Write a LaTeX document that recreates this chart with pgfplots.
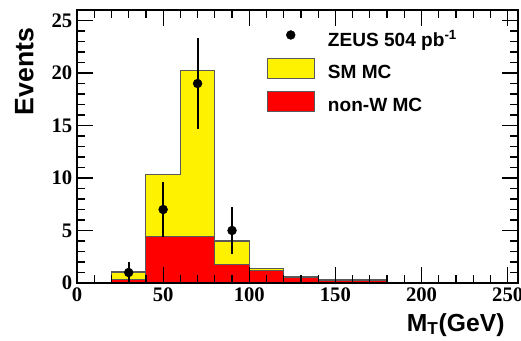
\documentclass[border=0pt]{standalone}
\usepackage{pgfplots}
\pgfplotsset{compat=1.18}
\usepackage{pgfplotstable}
\usepackage{fontspec}
\setmainfont{Liberation Serif}
\newfontfamily\hsans{Liberation Sans}

\pgfplotsset{
  boxlegend/.style={legend image code/.code={\draw[##1] (0pt,-3.75pt) rectangle (35pt,11.25pt);}},
  dotlegend/.style={legend image code/.code={\path[draw=none,fill=none] (0pt,-3.75pt) rectangle (35pt,11.25pt); \fill[black] (17.5pt,5pt) circle (3.3pt);}},
}

\pgfplotstableread{
x sm nonw
20 1.05 0.30
40 10.3 4.47
60 20.2 4.47
80 4.0 1.8
100 1.42 1.2
120 0.57 0.48
140 0.35 0.26
160 0.35 0.26
180 0.05 0.0
200 0.05 0.0
}\hist

\pgfplotstableread{
x y e
30 1 1.0
50 7 2.6
70 19 4.36
90 5 2.2
}\data

\begin{document}
\begin{tikzpicture}
\begin{axis}[
  scale only axis, width=330.75pt, height=204.75pt,
  xmin=0, xmax=256, ymin=0, ymax=26,
  xtick={0,50,...,250}, minor x tick num=4,
  ytick={0,5,...,25}, minor y tick num=4,
  tick align=inside,
  major tick length=12pt, minor tick length=6pt,
  tick style={black, line width=0.9pt},
  axis line style={line width=1pt},
  ticklabel style={font=\bfseries\fontsize{15.5}{15.5}\selectfont},
  /pgf/number format/assume math mode=true,
  axis on top,
  clip=false,
  legend cell align=left,
  legend style={draw=none, fill=none, at={(axis description cs:0.43,0.94)}, anchor=north west,
    font=\hsans\bfseries\fontsize{14.3}{16}\selectfont, inner sep=0pt, row sep=5.8pt,
    nodes={inner sep=0pt, text height=10.5pt, text depth=3pt},
    /tikz/every odd column/.style={column sep=10pt}},
]
\addlegendimage{dotlegend}
\addlegendentry{ZEUS 504 pb\textsuperscript{-1}}
\addplot[const plot mark left, fill=yellow, draw=black!65, line width=0.8pt, boxlegend]
  table[x=x, y=sm] {\hist} \closedcycle;
\addlegendentry{SM MC}
\addplot[const plot mark left, fill=red, draw=black!65, line width=0.8pt, boxlegend]
  table[x=x, y=nonw] {\hist} \closedcycle;
\addlegendentry{non-W MC}
\addplot[only marks, mark=*, mark size=3.3pt, black, forget plot,
  error bars/.cd, y dir=both, y explicit, error bar style={line width=1.5pt}, error mark=none,
  ]
  table[x=x, y=y, y error=e] {\data};
\node[rotate=90, anchor=base east, font=\hsans\bfseries\fontsize{20}{20}\selectfont]
  at (axis description cs:-0.099,0.952) {Events};
\node[anchor=base east, font=\hsans\bfseries\fontsize{18.5}{18.5}\selectfont]
  at (axis description cs:0.98,-0.176) {M\textsubscript{T}(GeV)};
\end{axis}
\pgfresetboundingbox
\path ([shift={(-57.75pt,-43.5pt)}]current axis.south west) rectangle ([shift={(2.25pt,7.5pt)}]current axis.north east);
\end{tikzpicture}
\end{document}
